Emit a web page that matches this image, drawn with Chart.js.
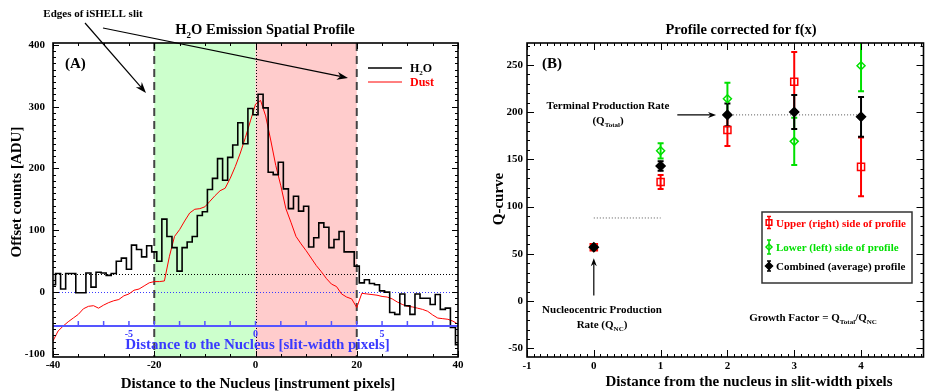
<!DOCTYPE html>
<html>
<head>
<meta charset="utf-8">
<title>H2O spatial profile and Q-curve</title>
<script src="https://cdn.jsdelivr.net/npm/chart.js@4.4.1/dist/chart.umd.min.js"></script>
<style>
  html, body { margin: 0; padding: 0; background: #fff; }
  #figure { position: relative; width: 930px; height: 391px; overflow: hidden; }
  .panel { position: absolute; top: 0; height: 391px; }
  #panelA { left: 0; width: 470px; }
  #panelB { left: 470px; width: 460px; }
</style>
</head>
<body>
<div id="figure">
  <div class="panel" id="panelA"><canvas id="chartA"></canvas></div>
  <div class="panel" id="panelB"><canvas id="chartB"></canvas></div>
</div>
<script>
// --- 1. DATA, PANEL A (emission spatial profile, instrument pixels) ---
const pixelPos = [
  -40, -39, -38, -37, -36, -35, -34, -33, -32, -31,
  -30, -29, -28, -27, -26, -25, -24, -23, -22, -21,
  -20, -19, -18, -17, -16, -15, -14, -13, -12, -11,
  -10, -9, -8, -7, -6, -5, -4, -3, -2, -1,
  0, 1, 2, 3, 4, 5, 6, 7, 8, 9,
  10, 11, 12, 13, 14, 15, 16, 17, 18, 19,
  20, 21, 22, 23, 24, 25, 26, 27, 28, 29,
  30, 31, 32, 33, 34, 35, 36, 37, 38, 39,
  40
];
const h2oCounts = [
  12, 30, 5, 30, 30, -1, -1, 31, 8, 32,
  31, 27, 30, 50, 55, 37, 76, 69, 57, 75,
  65, 50, 118, 90, 72, 34, 72, 81, 90, 124,
  130, 166, 184, 216, 181, 218, 238, 274, 240, 297,
  287, 320, 298, 194, 190, 210, 167, 135, 155, 131,
  139, 73, 88, 112, 105, 72, 85, 98, 65, 65,
  42, 15, 20, 14, 12, 2, 0, -33, -36, -3,
  -22, -36, -3, -10, -10, -20, -4, -28, -26, -57,
  -85
];
const dustCounts = [
  -79, -63, -55, -48, -42, -36, -27, -23, -22, -26,
  -21, -17, -14, -12, -6, -3, 3, 5, 10, 15,
  17, 17, 18, 58, 90, 101, 115, 128, 134, 135,
  138, 147, 156, 164, 168, 184, 203, 225, 250, 277,
  304, 310, 285, 246, 205, 172, 135, 113, 90, 78,
  67, 55, 43, 33, 22, 13, 9, -3, -8, -11,
  -25, -2, -3, -4, -5, -7, -8, -11, -16, -20,
  -23, -24, -26, -28, -31, -37, -42, -43, -44, -47,
  -52
];
const slitEdges = [-20, 20];
const nucleusPos = 0;
const h2oBackground = 29;
const zeroLevel = 0;
const slitAxisLevel = -55;
const slitWidthPx = 5;
const slitTicks = [-7, -6, -5, -4, -3, -2, -1, 0, 1, 2, 3, 4, 5, 6, 7];
const slitTickLabels = [-5, 0, 5];
const xTicksA = [-40, -20, 0, 20, 40];
const yTicksA = [-100, 0, 100, 200, 300, 400];

// --- 2. DATA, PANEL B (Q-curve, slit-width pixels) ---
const distB = [0, 1, 2, 3, 4];
const upperQ = [57, 126, 181, 232, 142];
const upperErr = [0, 7.5, 17, 31.5, 31];
const lowerQ = [57, 159, 214, 169, 249];
const lowerErr = [0, 8, 17, 25, 27];
const combinedQ = [57, 143, 197, 200, 195];
const combinedErr = [0, 5, 12, 18, 21];
const qTotalLevel = 197;
const qTotalSpan = [1.95, 4.05];
const qNcGuideLevel = 88;
const qNcGuideSpan = [0, 1];
const xTicksB = [-1, 0, 1, 2, 3, 4];
const yTicksB = [-50, 0, 50, 100, 150, 200, 250];

// --- 3. HELPERS ---
const SERIF = "'Liberation Serif', 'Times New Roman', serif";
const bold = size => `bold ${size}px ${SERIF}`;
const RED = '#ff0000';
const GREEN = '#00e000';
const BLUE = '#3a3aff';

// parts: [[text, isSubscript], ...]
function drawRich(ctx, parts, x, y, size, align, color) {
  const subSize = Math.round(size * 0.6);
  let w = 0;
  parts.forEach(([t, s]) => { ctx.font = bold(s ? subSize : size); w += ctx.measureText(t).width; });
  let cx = align === 'center' ? x - w / 2 : (align === 'right' ? x - w : x);
  ctx.fillStyle = color || '#000';
  ctx.textAlign = 'left';
  ctx.textBaseline = 'alphabetic';
  parts.forEach(([t, s]) => {
    ctx.font = bold(s ? subSize : size);
    ctx.fillText(t, cx, s ? y + size * 0.25 : y);
    cx += ctx.measureText(t).width;
  });
}

function drawArrow(ctx, x1, y1, x2, y2, head, width) {
  const ang = Math.atan2(y2 - y1, x2 - x1);
  const c = Math.cos(ang), s = Math.sin(ang);
  ctx.beginPath();
  ctx.moveTo(x1, y1);
  ctx.lineTo(x2 - c * head * 0.7, y2 - s * head * 0.7);
  ctx.stroke();
  ctx.beginPath();
  ctx.moveTo(x2, y2);
  ctx.lineTo(x2 - head * c + width / 2 * s, y2 - head * s - width / 2 * c);
  ctx.lineTo(x2 - head * c * 0.7, y2 - head * s * 0.7);
  ctx.lineTo(x2 - head * c - width / 2 * s, y2 - head * s + width / 2 * c);
  ctx.closePath();
  ctx.fill();
}

function multiples(min, max, step) {
  const out = [];
  for (let n = Math.ceil(min / step - 1e-6); n * step <= max + 1e-6; n++) out.push(n * step);
  return out;
}
const isMultiple = (v, step) => Math.abs(v / step - Math.round(v / step)) < 1e-6;

// box round the plot with inward ticks on all four sides
const framePlugin = {
  id: 'frame',
  afterDatasetsDraw(chart, args, opts) {
    const {ctx, chartArea: a, scales: {x, y}} = chart;
    ctx.save();
    ctx.strokeStyle = '#000';
    ctx.setLineDash([]);
    ctx.lineWidth = 1;
    ctx.beginPath();
    multiples(x.min, x.max, opts.xMinor).forEach(v => {
      const len = isMultiple(v, opts.xMajor) ? opts.majorLen : opts.minorLen;
      const px = Math.round(x.getPixelForValue(v)) + 0.5;
      ctx.moveTo(px, a.bottom); ctx.lineTo(px, a.bottom - len);
      ctx.moveTo(px, a.top); ctx.lineTo(px, a.top + len);
    });
    multiples(y.min, y.max, opts.yMinor).forEach(v => {
      const len = isMultiple(v, opts.yMajor) ? opts.majorLen : opts.minorLen;
      const py = Math.round(y.getPixelForValue(v)) + 0.5;
      ctx.moveTo(a.left, py); ctx.lineTo(a.left + len, py);
      ctx.moveTo(a.right, py); ctx.lineTo(a.right - len, py);
    });
    ctx.stroke();
    ctx.lineWidth = 1.6;
    ctx.strokeRect(a.left, a.top, a.right - a.left, a.bottom - a.top);
    ctx.restore();
  }
};

function tickFont(size) { return { family: SERIF, size: size, weight: 'bold' }; }

// --- 4. PANEL A ---
const guidesA = {
  id: 'guidesA',
  beforeDatasetsDraw(chart) {
    const {ctx, chartArea: a, scales: {x, y}} = chart;
    const xl = x.getPixelForValue(slitEdges[0]);
    const xr = x.getPixelForValue(slitEdges[1]);
    const x0 = x.getPixelForValue(nucleusPos);
    ctx.save();
    ctx.fillStyle = '#ccffcc';
    ctx.fillRect(xl, a.top, x0 - xl, a.bottom - a.top);
    ctx.fillStyle = '#ffcccc';
    ctx.fillRect(x0, a.top, xr - x0, a.bottom - a.top);

    ctx.lineWidth = 1;
    ctx.setLineDash([1, 2]);
    ctx.strokeStyle = '#000';
    ctx.beginPath();
    ctx.moveTo(Math.round(x0) + 0.5, a.top); ctx.lineTo(Math.round(x0) + 0.5, a.bottom);
    const yb = Math.round(y.getPixelForValue(h2oBackground)) + 0.5;
    ctx.moveTo(a.left, yb); ctx.lineTo(a.right, yb);
    ctx.stroke();
    ctx.strokeStyle = BLUE;
    ctx.beginPath();
    const yz = Math.round(y.getPixelForValue(zeroLevel)) + 0.5;
    ctx.moveTo(a.left, yz); ctx.lineTo(a.right, yz);
    ctx.stroke();

    ctx.strokeStyle = '#444';
    ctx.lineWidth = 2;
    ctx.setLineDash([8, 5]);
    ctx.beginPath();
    slitEdges.forEach(v => {
      const px = x.getPixelForValue(v);
      ctx.moveTo(px, a.top); ctx.lineTo(px, a.bottom);
    });
    ctx.stroke();
    ctx.restore();
  },
  afterDatasetsDraw(chart) {
    // blue slit-width axis
    const {ctx, chartArea: a, scales: {x, y}} = chart;
    const ya = y.getPixelForValue(slitAxisLevel);
    ctx.save();
    ctx.strokeStyle = '#5555ff';
    ctx.lineWidth = 2;
    ctx.beginPath();
    ctx.moveTo(a.left, ya); ctx.lineTo(a.right, ya);
    ctx.stroke();
    ctx.lineWidth = 1.5;
    ctx.beginPath();
    slitTicks.forEach(s => {
      const px = x.getPixelForValue(s * slitWidthPx);
      ctx.moveTo(px, ya); ctx.lineTo(px, ya - 5);
    });
    ctx.stroke();
    ctx.fillStyle = BLUE;
    ctx.font = bold(10);
    ctx.textAlign = 'center';
    ctx.textBaseline = 'alphabetic';
    slitTickLabels.forEach(s => {
      ctx.fillText(String(s), x.getPixelForValue(s * slitWidthPx), ya + 11);
    });
    drawRich(ctx, [['Distance to the Nucleus [slit-width pixels]']], (a.left + a.right) / 2 + 2, ya + 23, 15, 'center', BLUE);
    ctx.restore();
  },
  afterDraw(chart) {
    const {ctx, chartArea: a} = chart;
    ctx.save();
    drawRich(ctx, [['H'], ['2', true], ['O Emission Spatial Profile']], 265, 34, 14.5, 'center');
    drawRich(ctx, [['Distance to the Nucleus [instrument pixels]']], 258, 388, 15, 'center');
    ctx.translate(21, 192);
    ctx.rotate(-Math.PI / 2);
    drawRich(ctx, [['Offset counts [ADU]']], 0, 0, 15, 'center');
    ctx.setTransform(1, 0, 0, 1, 0, 0);

    drawRich(ctx, [['(A)']], a.left + 12, 68, 15, 'left');

    // legend
    ctx.lineWidth = 1.5;
    ctx.strokeStyle = '#000';
    ctx.beginPath(); ctx.moveTo(368, 68); ctx.lineTo(402, 68); ctx.stroke();
    ctx.strokeStyle = RED;
    ctx.lineWidth = 1;
    ctx.beginPath(); ctx.moveTo(368, 82); ctx.lineTo(402, 82); ctx.stroke();
    drawRich(ctx, [['H'], ['2', true], ['O']], 410, 72, 12, 'left');
    drawRich(ctx, [['Dust']], 410, 86, 12, 'left', RED);

    // slit-edge annotation
    drawRich(ctx, [['Edges of iSHELL slit']], 93, 17, 11, 'center');
    ctx.strokeStyle = '#000';
    ctx.fillStyle = '#000';
    ctx.lineWidth = 1.2;
    drawArrow(ctx, 85, 23, 146, 93, 11, 8);
    drawArrow(ctx, 103, 28, 348, 78, 11, 8);
    ctx.restore();
  }
};

new Chart(document.getElementById('chartA'), {
  type: 'scatter',
  data: {
    datasets: [{
      label: 'H2O',
      data: pixelPos.map((x, i) => ({ x: x, y: h2oCounts[i] })),
      showLine: true,
      stepped: 'middle',
      borderColor: '#000',
      borderWidth: 1.6,
      pointRadius: 0
    }, {
      label: 'Dust',
      data: pixelPos.map((x, i) => ({ x: x, y: dustCounts[i] })),
      showLine: true,
      borderColor: RED,
      borderWidth: 1,
      pointRadius: 0
    }]
  },
  options: {
    responsive: true,
    maintainAspectRatio: false,
    animation: false,
    layout: { padding: { top: 43, right: 12, left: 0, bottom: 0 } },
    plugins: {
      legend: { display: false },
      tooltip: { enabled: false },
      frame: { xMajor: 20, xMinor: 5, yMajor: 100, yMinor: 10, majorLen: 6, minorLen: 3 }
    },
    scales: {
      x: {
        type: 'linear', min: -40, max: 40,
        grid: { display: false, drawTicks: false },
        border: { display: false },
        afterBuildTicks: s => { s.ticks = xTicksA.map(v => ({ value: v })); },
        afterFit: s => { s.height = 34; },
        ticks: { font: tickFont(11), color: '#000', padding: 2, maxRotation: 0, autoSkip: false, callback: v => String(v) }
      },
      y: {
        type: 'linear', min: -105, max: 403,
        grid: { display: false, drawTicks: false },
        border: { display: false },
        afterBuildTicks: s => { s.ticks = yTicksA.map(v => ({ value: v })); },
        afterFit: s => { s.width = 53; },
        ticks: { font: tickFont(11), color: '#000', padding: 8, autoSkip: false, callback: v => String(v) }
      }
    }
  },
  plugins: [guidesA, framePlugin]
});

// --- 5. PANEL B ---
function drawMarker(ctx, style, x, y, r, stroke, fill) {
  ctx.beginPath();
  if (style === 'rect') {
    const h = r * Math.SQRT1_2;
    ctx.rect(x - h, y - h, 2 * h, 2 * h);
  } else {
    ctx.moveTo(x - r, y); ctx.lineTo(x, y - r); ctx.lineTo(x + r, y); ctx.lineTo(x, y + r); ctx.closePath();
  }
  ctx.fillStyle = fill;
  ctx.fill();
  ctx.strokeStyle = stroke;
  ctx.lineWidth = 1.5;
  ctx.stroke();
}

function drawErrorBar(ctx, px, top, bot, cap) {
  ctx.beginPath();
  ctx.moveTo(px, top); ctx.lineTo(px, bot);
  ctx.moveTo(px - cap, top); ctx.lineTo(px + cap, top);
  ctx.moveTo(px - cap, bot); ctx.lineTo(px + cap, bot);
  ctx.stroke();
}

const errorBarPlugin = {
  id: 'errorBars',
  beforeDatasetsDraw(chart) {
    const {ctx, chartArea: a, scales: {x, y}} = chart;
    ctx.save();
    ctx.beginPath();
    ctx.rect(a.left, a.top, a.right - a.left, a.bottom - a.top);
    ctx.clip();
    ctx.lineWidth = 2;
    const sets = chart.data.datasets;
    for (let i = sets.length - 1; i >= 0; i--) {
      const ds = sets[i];
      if (!ds.errors) continue;
      ctx.strokeStyle = ds.borderColor;
      ds.data.forEach((p, j) => {
        const e = ds.errors[j];
        if (!e) return;
        drawErrorBar(ctx, x.getPixelForValue(p.x), y.getPixelForValue(p.y + e), y.getPixelForValue(p.y - e), 3);
      });
    }
    ctx.restore();
  }
};

const annotB = {
  id: 'annotB',
  afterDraw(chart) {
    const {ctx, chartArea: a, scales: {x, y}} = chart;
    ctx.save();
    drawRich(ctx, [['Profile corrected for f(x)']], 271, 34, 14.5, 'center');
    drawRich(ctx, [['Distance from the nucleus in slit-width pixels']], 279, 386, 15, 'center');
    ctx.translate(503, 0);
    ctx.setTransform(1, 0, 0, 1, 0, 0);
    ctx.translate(33, 199);
    ctx.rotate(-Math.PI / 2);
    drawRich(ctx, [['Q-curve']], 0, 0, 15, 'center');
    ctx.setTransform(1, 0, 0, 1, 0, 0);

    drawRich(ctx, [['(B)']], a.left + 15, 68, 15, 'left');

    drawRich(ctx, [['Terminal Production Rate']], 138, 109, 11, 'center');
    drawRich(ctx, [['(Q'], ['Total', true], [')']], 138, 124, 11, 'center');
    drawRich(ctx, [['Nucleocentric Production']], 132, 313, 11, 'center');
    drawRich(ctx, [['Rate (Q'], ['NC', true], [')']], 132, 328, 11, 'center');
    drawRich(ctx, [['Growth Factor = Q'], ['Total', true], ['/Q'], ['NC', true]], 343, 321, 11, 'center');

    ctx.strokeStyle = '#000';
    ctx.fillStyle = '#000';
    ctx.lineWidth = 1.2;
    drawArrow(ctx, x.getPixelForValue(1.25), y.getPixelForValue(qTotalLevel), x.getPixelForValue(1.83), y.getPixelForValue(qTotalLevel), 8, 6);
    drawArrow(ctx, x.getPixelForValue(0), y.getPixelForValue(6), x.getPixelForValue(0), y.getPixelForValue(45.5), 8, 6);

    // legend box
    const lx = 292, ly = 212, lw = 150, lh = 71;
    ctx.fillStyle = '#fff';
    ctx.fillRect(lx, ly, lw, lh);
    ctx.strokeStyle = '#333';
    ctx.lineWidth = 1.5;
    ctx.strokeRect(lx, ly, lw, lh);
    const rows = [
      { text: 'Upper (right) side of profile', color: RED, style: 'rect', fill: 'rgba(0,0,0,0)', r: 4, cy: 222.5, half: 6 },
      { text: 'Lower (left) side of profile', color: GREEN, style: 'rectRot', fill: 'rgba(0,0,0,0)', r: 3, cy: 247, half: 7 },
      { text: 'Combined (average) profile', color: '#000', style: 'rectRot', fill: '#000', r: 3.5, cy: 266, half: 5 }
    ];
    rows.forEach(r => {
      ctx.strokeStyle = r.color;
      ctx.lineWidth = 1.5;
      drawErrorBar(ctx, lx + 7, r.cy - r.half, r.cy + r.half, 2);
      drawMarker(ctx, r.style, lx + 7, r.cy, r.r, r.color, r.fill);
      drawRich(ctx, [[r.text]], lx + 14, r.cy + 4, 11, 'left', r.color);
    });
    ctx.restore();
  }
};

function qDataset(label, ys, errs, color, style, fill, radius) {
  return {
    label: label,
    data: distB.map((x, i) => ({ x: x, y: ys[i] })),
    errors: errs,
    borderColor: color,
    backgroundColor: fill,
    pointStyle: style,
    pointRadius: radius,
    pointBorderWidth: 1.5,
    showLine: false
  };
}

function guideDataset(level, span) {
  return {
    label: 'guide',
    data: span.map(x => ({ x: x, y: level })),
    showLine: true,
    borderColor: '#555',
    borderWidth: 1,
    borderDash: [1, 2],
    pointRadius: 0
  };
}

new Chart(document.getElementById('chartB'), {
  type: 'scatter',
  data: {
    datasets: [
      qDataset('Combined (average) profile', combinedQ, combinedErr, '#000', 'rectRot', '#000', 4.5),
      qDataset('Lower (left) side of profile', lowerQ, lowerErr, GREEN, 'rectRot', 'rgba(0,0,0,0)', 4),
      qDataset('Upper (right) side of profile', upperQ, upperErr, RED, 'rect', 'rgba(0,0,0,0)', 5),
      guideDataset(qTotalLevel, qTotalSpan),
      guideDataset(qNcGuideLevel, qNcGuideSpan)
    ]
  },
  options: {
    responsive: true,
    maintainAspectRatio: false,
    animation: false,
    layout: { padding: { top: 43, right: 2, left: 0, bottom: 0 } },
    plugins: {
      legend: { display: false },
      tooltip: { enabled: false },
      frame: { xMajor: 1, xMinor: 0.1, yMajor: 50, yMinor: 10, majorLen: 7, minorLen: 3 }
    },
    scales: {
      x: {
        type: 'linear', min: -1, max: 4.935,
        grid: { display: false, drawTicks: false },
        border: { display: false },
        afterBuildTicks: s => { s.ticks = xTicksB.map(v => ({ value: v })); },
        afterFit: s => { s.height = 34; },
        ticks: { font: tickFont(11), color: '#000', padding: 3, maxRotation: 0, autoSkip: false, callback: v => String(v) }
      },
      y: {
        type: 'linear', min: -59, max: 273,
        grid: { display: false, drawTicks: false },
        border: { display: false },
        afterBuildTicks: s => { s.ticks = yTicksB.map(v => ({ value: v })); },
        afterFit: s => { s.width = 57; },
        ticks: { font: tickFont(11), color: '#000', padding: 4, autoSkip: false, callback: v => String(v) }
      }
    }
  },
  plugins: [errorBarPlugin, framePlugin, annotB]
});
</script>
</body>
</html>
